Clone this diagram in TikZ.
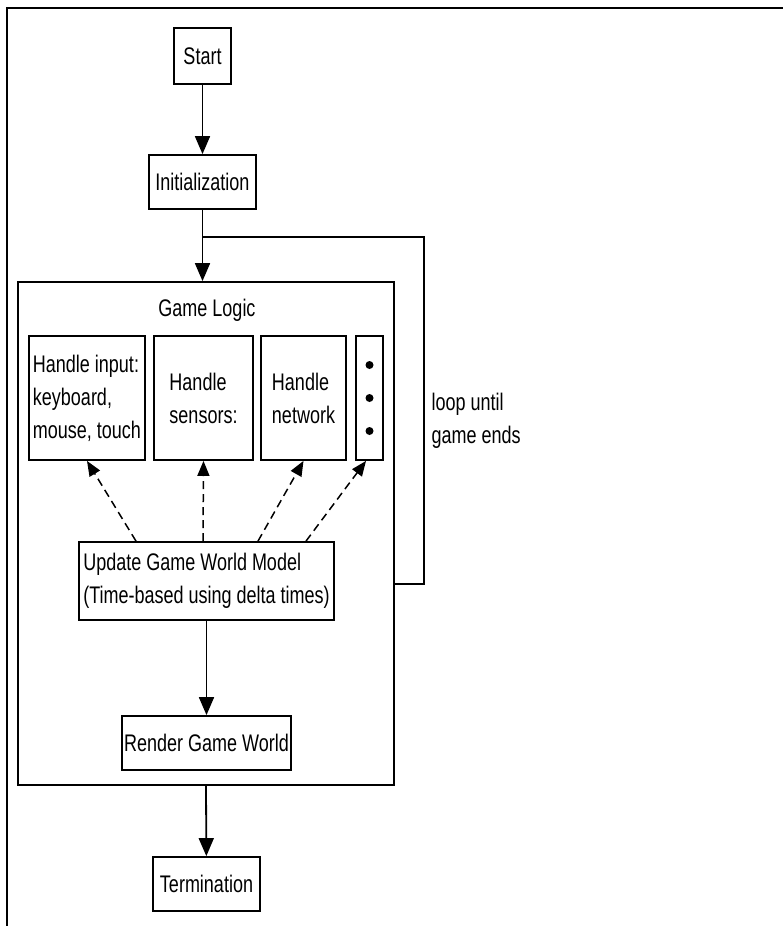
\documentclass[tikz,border=0pt]{standalone}
\usepackage{fontspec}
\setmainfont[FakeStretch=0.75]{Liberation Sans}
\usetikzlibrary{arrows.meta,calc}

\tikzset{
  box/.style={draw, line width=1.8pt, inner sep=2pt},
  flow/.style={line width=1.8pt, -{Triangle[width=15pt,length=18pt]}},
  peek/.style={line width=1.5pt, dash pattern=on 8pt off 5pt, -{Triangle[width=12pt,length=15pt]}},
}

\begin{document}
\begin{tikzpicture}[x=1pt, y=-1pt, font=\fontsize{24}{33}\selectfont]
        \useasboundingbox (0,0) rectangle (783,926);
        \draw[line width=1.8pt] (7,926) -- (7,8) -- (783,8);

        \node[box, minimum width=57pt, minimum height=56pt] (start) at (202.5, 56) {Start};
        \node[box, minimum width=107pt, minimum height=54pt] (init) at (202.5, 182) {Initialization};
        \node[box, minimum width=376pt, minimum height=503pt] (logic) at (206, 533.5) {};
        \node (logiclabel) at (207, 310) {Game Logic};

        \node[box, minimum width=116pt, minimum height=124pt, align=left] (input) at (87, 398) {Handle input:\\keyboard,\\mouse, touch};
        \node[box, minimum width=99pt, minimum height=124pt, align=left] (sensors) at (203.5, 398) {Handle\\sensors:};
        \node[box, minimum width=85pt, minimum height=124pt, align=left] (network) at (303.5, 398) {Handle\\network};
        \node[box, minimum width=27pt, minimum height=124pt] (more) at (369.5, 398) {};
        \foreach \dy in {-33, 0, 33}
          \fill ($(more.center)+(0,\dy)$) circle (4pt);

        \node[box, minimum width=255pt, minimum height=78pt, align=left] (update) at (206.5, 581) {Update Game World Model\\(Time-based using delta times)};
        \node[box, minimum width=169pt, minimum height=54pt] (render) at (206.5, 743) {Render Game World};
        \node[box, minimum width=107pt, minimum height=54pt] (term) at (206.5, 884) {Termination};

        \node[anchor=west, align=left] (looptext) at (428, 421) {loop until\\game ends};

        % main flow
        \draw[flow] (start) -- (init);
        \draw[flow] (init) -- (init.south |- logic.north);
        \draw[flow] (update) -- (render);
        \draw[flow] (logic.south) -- (term);

        % loop back
        \coordinate (split) at (202.5, 237);
        \coordinate (looptop) at (424, 237);
        \coordinate (loopbot) at (424, 584);
        \draw[line width=1.8pt] (logic.east |- loopbot) -- (loopbot) -- (looptop) -- (split);

        % update drives the handlers
        \draw[peek] ($(update.north)+(-70.5,0)$) -- (input.south);
        \draw[peek] ($(update.north)+(-3.5,0)$) -- (sensors.south);
        \draw[peek] ($(update.north)+(51.5,0)$) -- (network.south);
        \draw[peek] ($(update.north)+(99.5,0)$) -- ($(more.south)+(-3.5,0)$);

\end{tikzpicture}
\end{document}
